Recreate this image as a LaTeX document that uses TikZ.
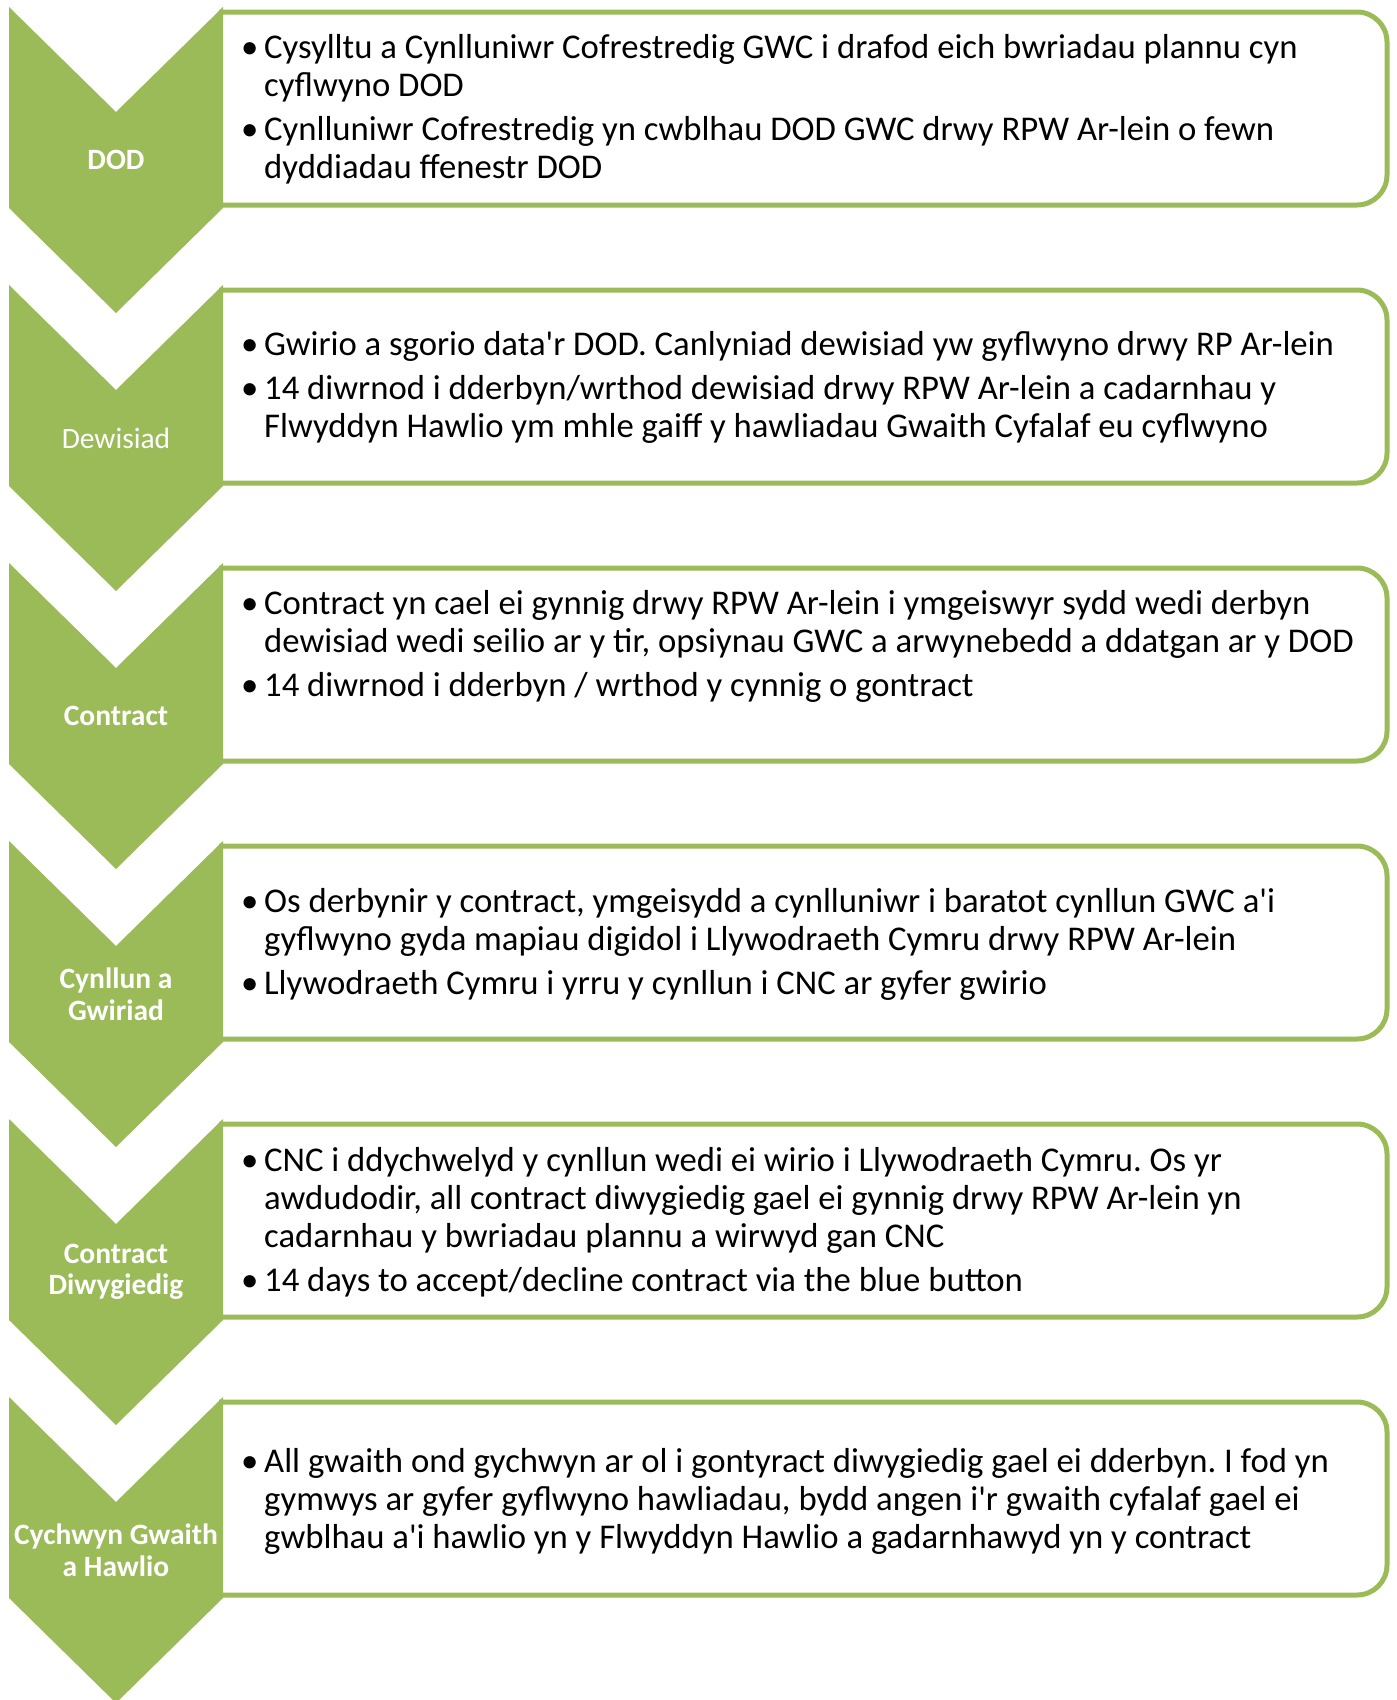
\documentclass[tikz,border=0pt]{standalone}
\usepackage{fontspec}
\setmainfont{Carlito}[Ligatures=TeXOff]
\definecolor{grn}{HTML}{9BBB59}
\newcommand\myb{\makebox[23pt][l]{\textbullet}}
\newcommand\myc{\hspace*{23pt}}
\frenchspacing
\begin{document}
\begin{tikzpicture}[x=1pt,y=-1pt,
  chev/.style={fill=grn,draw=none},
  panel/.style={draw=grn,line width=5pt,rounded corners=30pt,fill=white},
  lbl/.style={text=white,font=\fontsize{29.5}{31.5}\selectfont\bfseries,align=center,inner sep=0pt},
  lbln/.style={text=white,font=\fontsize{29.5}{31.5}\selectfont,align=center,inner sep=0pt},
  body/.style={anchor=north west,inner sep=0pt,align=left,font=\fontsize{34.7}{38}\selectfont}]
\useasboundingbox (0,0) rectangle (1397,1700);
\clip (0,0) rectangle (1397,1700);
% panels
\begin{scope}
\clip (219,0) rectangle (1397,1700);
\foreach \k in {0,...,5}{
  \pgfmathsetmacro\tt{7+278*\k}
  \draw[panel] (150,\tt+5) rectangle (1387,\tt+198);
}
\end{scope}
% chevrons
\foreach \k in {0,...,5}{
  \pgfmathsetmacro\tt{7+278*\k}
  \fill[chev] (9,\tt) -- (116,\tt+105) -- (223,\tt) -- (223,\tt+201) -- (116,\tt+306) -- (9,\tt+201) -- cycle;
}
% labels
\node[lbl]  (l1) at (116,160) {DOD};
\node[lbln] (l2) at (116,438) {Dewisiad};
\node[lbl]  (l3) at (116,716) {Contract};
\node[lbl]  (l4) at (116,994) {Cynllun a\\Gwiriad};
\node[lbl]  (l5) at (116,1272) {Contract\\Diwygiedig};
\node[lbl]  (l6) at (116,1550) {Cychwyn Gwaith\\a Hawlio};
% texts
\node[body] (t1) at (241,32) {\strut\myb Cysylltu a Cynlluniwr Cofrestredig GWC i drafod eich bwriadau plannu cyn\\
\myc cyflwyno DOD\\[6pt]
\myb Cynlluniwr Cofrestredig yn cwblhau DOD GWC drwy RPW Ar-lein o fewn\\
\myc dyddiadau ffenestr DOD};
\node[body] (t2) at (241,329) {\strut\myb Gwirio a sgorio data'r DOD. Canlyniad dewisiad yw gyflwyno drwy RP Ar-lein\\[6pt]
\myb 14 diwrnod i dderbyn/wrthod dewisiad drwy RPW Ar-lein a cadarnhau y\\
\myc Flwyddyn Hawlio ym mhle gaiff y hawliadau Gwaith Cyfalaf eu cyflwyno};
\node[body] (t3) at (241,588) {\strut\myb Contract yn cael ei gynnig drwy RPW Ar-lein i ymgeiswyr sydd wedi derbyn\\
\myc dewisiad wedi seilio ar y tir, opsiynau GWC a arwynebedd a ddatgan ar y DOD\\[6pt]
\myb 14 diwrnod i dderbyn / wrthod y cynnig o gontract};
\node[body] (t4) at (241,886) {\strut\myb Os derbynir y contract, ymgeisydd a cynlluniwr i baratot cynllun GWC a'i\\
\myc gyflwyno gyda mapiau digidol i Llywodraeth Cymru drwy RPW Ar-lein\\[6pt]
\myb Llywodraeth Cymru i yrru y cynllun i CNC ar gyfer gwirio};
\node[body] (t5) at (241,1145) {\strut\myb CNC i ddychwelyd y cynllun wedi ei wirio i Llywodraeth Cymru. Os yr\\
\myc awdudodir, all contract diwygiedig gael ei gynnig drwy RPW Ar-lein yn\\
\myc cadarnhau y bwriadau plannu a wirwyd gan CNC\\[6pt]
\myb 14 days to accept/decline contract via the blue button};
\node[body] (t6) at (241,1446) {\strut\myb All gwaith ond gychwyn ar ol i gontyract diwygiedig gael ei dderbyn. I fod yn\\
\myc gymwys ar gyfer gyflwyno hawliadau, bydd angen i'r gwaith cyfalaf gael ei\\
\myc gwblhau a'i hawlio yn y Flwyddyn Hawlio a gadarnhawyd yn y contract};
\end{tikzpicture}
\end{document}
